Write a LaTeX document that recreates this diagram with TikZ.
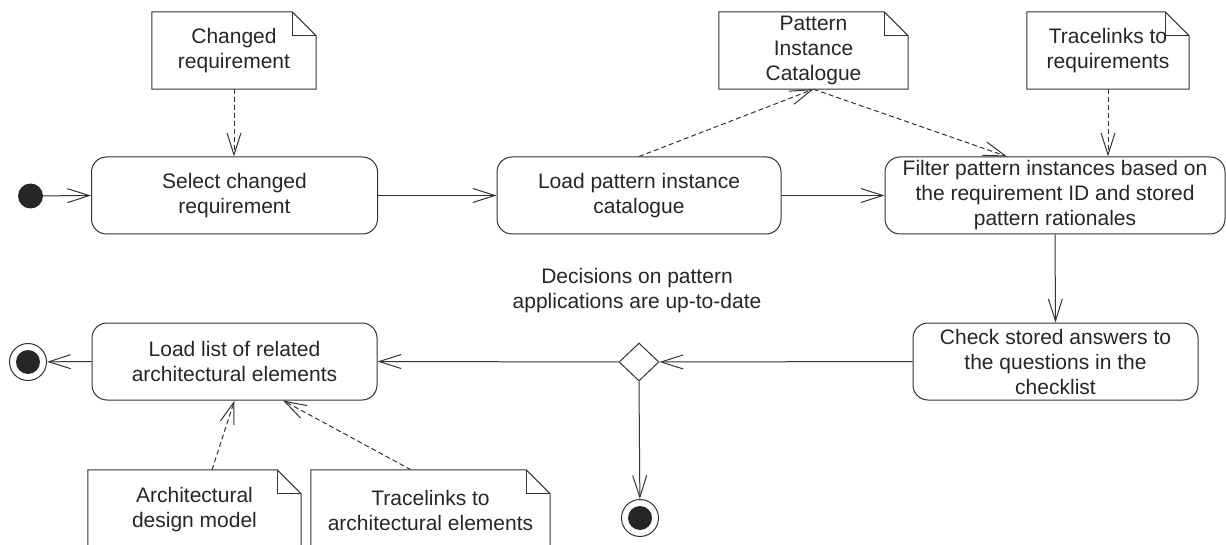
\documentclass[tikz,border=0pt]{standalone}
\usepackage{fontspec}
\setmainfont{Liberation Sans}
\usetikzlibrary{arrows.meta,shapes.geometric}
\definecolor{linec}{HTML}{333333}
\definecolor{textc}{HTML}{262626}
\definecolor{fillc}{HTML}{262626}
\tikzset{
  act/.style={draw=linec, line width=1pt, rounded corners=15pt, minimum width=#1, minimum height=77pt, align=center, inner sep=0pt, text=textc, font=\fontsize{21}{25}\selectfont},
  act/.default=286pt,
  notetext/.style={align=center, inner sep=0pt, text=textc, minimum width=#1, minimum height=77pt, font=\fontsize{21}{25}\selectfont},
  notetext/.default=164pt,
  noteline/.style={draw=linec, line width=1pt},
  flow/.style={draw=linec, line width=1pt, -{Straight Barb[length=22pt,width=14pt]}},
  dep/.style={flow, dash pattern=on 5pt off 3pt},
  startnode/.style={circle, fill=fillc, minimum size=25pt, inner sep=0pt},
  endnode/.style={circle, draw=linec, line width=1pt, minimum size=37pt, inner sep=0pt, path picture={\fill[fillc] (path picture bounding box.center) circle (12pt);}},
  decision/.style={diamond, draw=linec, line width=1pt, minimum width=40pt, minimum height=38pt, inner sep=0pt},
  guardtext/.style={align=center, inner sep=0pt, text=textc, font=\fontsize{21}{25}\selectfont}
}
\newcommand\drawnote[1]{%
  \draw[noteline] (#1.north west) -- ([xshift=-24pt]#1.north east) -- ([yshift=-24pt]#1.north east) -- (#1.south east) -- (#1.south west) -- cycle;
  \draw[noteline] ([xshift=-24pt]#1.north east) |- ([yshift=-24pt]#1.north east);}
\begin{document}
\begin{tikzpicture}[x=1pt,y=-1pt]
\useasboundingbox (0,0) rectangle (1226,545);
\clip (0,0) rectangle (1226,545);

% activities
\node[act=286pt] (b1) at (234.5,195.5) {Select changed\\requirement};
\node[act=284pt] (b2) at (639,195.5) {Load pattern instance\\catalogue};
\node[act=340pt] (b3) at (1055,195.5) {Filter pattern instances based on\\the requirement ID and stored\\pattern rationales};
\node[act=285pt] (b4) at (1055.5,361.5) {Check stored answers to\\the questions in the\\checklist};
\node[act=285pt] (b5) at (234.5,361.5) {Load list of related\\architectural elements};

% control nodes
\node[startnode] (init) at (30.5,196) {};
\node[decision] (dec) at (639,362) {};
\node[endnode] (fin1) at (28,362) {};
\node[endnode] (fin2) at (640,518) {};
\node[guardtext] (guard) at (637,291) {Decisions on pattern\\applications are up-to-date};

% notes
\node[notetext=164pt] (n1) at (234,50.5) {Changed\\requirement};
\node[notetext=189pt] (n2) at (813.5,50.5) {Pattern\\Instance\\Catalogue};
\node[notetext=162pt] (n3) at (1108,50.5) {Tracelinks to\\requirements};
\node[notetext=213pt, minimum height=80pt] (n4) at (194.5,510) {Architectural\\design model};
\node[notetext=239pt, minimum height=80pt] (n5) at (430.5,510) {Tracelinks to\\architectural elements};
\drawnote{n1}
\drawnote{n2}
\drawnote{n3}
\drawnote{n4}
\drawnote{n5}

% control flow
\draw[flow] (init) -- (b1.west);
\draw[flow] (b1.east) -- (b2.west);
\draw[flow] (b2.east) -- (b3.west);
\draw[flow] (b3.south) -- (b4.north);
\draw[flow] (b4.west) -- (dec.east);
\draw[flow] (dec.west) -- (b5.east);
\draw[flow] (b5.west) -- (fin1);
\draw[flow] (dec.south) -- (fin2);

% object flow / dependencies
\draw[dep] (n1.south) -- (n1.south |- b1.north);
\draw[dep] (b2.north) -- (n2.south);
\draw[dep] (n2.south) -- ([xshift=-48pt]b3.north);
\draw[dep] (n3.south) -- (n3.south |- b3.north);
\draw[dep] ([xshift=17.5pt]n4.north) -- (b5.south);
\draw[dep] ([xshift=-19.5pt]n5.north) -- ([xshift=48.5pt]b5.south);
\end{tikzpicture}
\end{document}
